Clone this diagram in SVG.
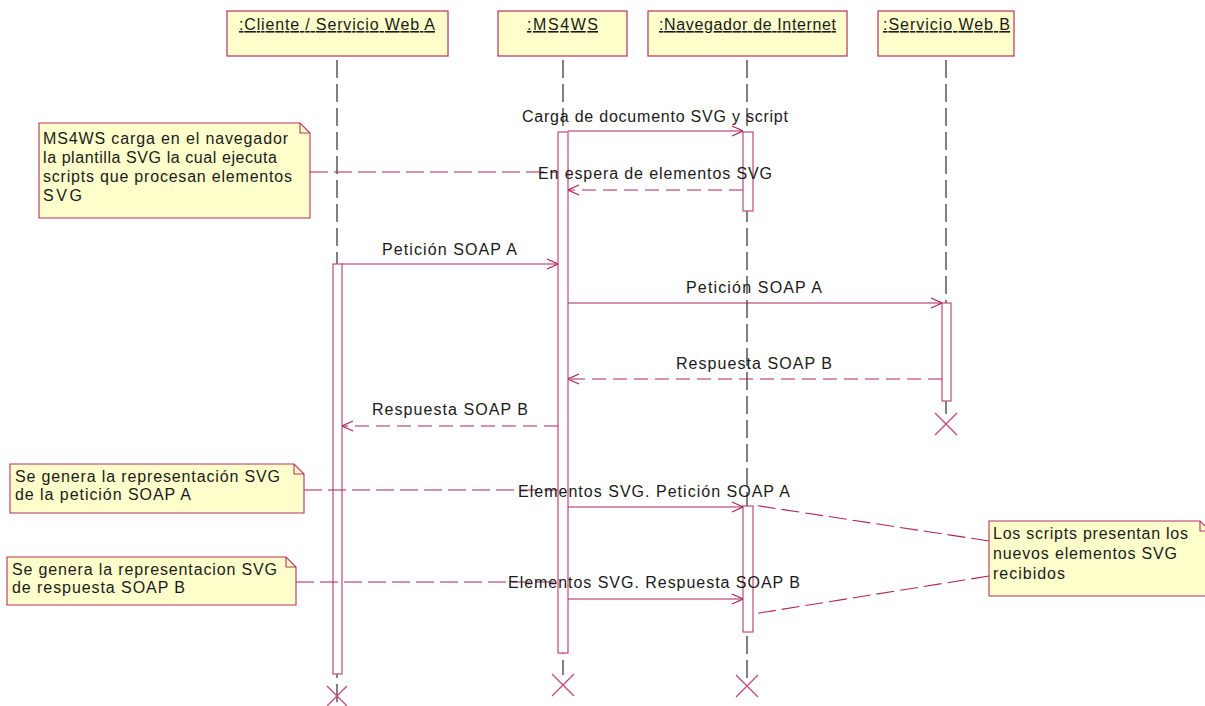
<svg xmlns="http://www.w3.org/2000/svg" width="1205" height="706" viewBox="0 0 1205 706">
  <style>
    text { font-family: "Liberation Sans", Arial, sans-serif; font-size: 16px; fill: #1a1a1a; }
    .head { fill: #ffffcc; stroke: #b8305e; stroke-width: 1.2; }
    .title { text-anchor: middle; text-decoration: underline; }
    .life { stroke: #000; stroke-width: 1; stroke-dasharray: 18 6; fill: none; }
    .act { fill: #ffffff; stroke: #c04a76; stroke-width: 1.2; }
    .msg { stroke: #b0245a; stroke-width: 1.1; fill: none; }
    .ret { stroke: #b0245a; stroke-width: 1.1; fill: none; stroke-dasharray: 14 7; }
    .lbl { text-anchor: middle; }
    .note { fill: #ffffcc; stroke: #b8305e; stroke-width: 1.1; }
    .fold { fill: none; stroke: #b8305e; stroke-width: 1.1; }
    .link { stroke: #b0245a; stroke-width: 1.1; fill: none; stroke-dasharray: 18 6; }
    .kill { stroke: #c04a76; stroke-width: 1.3; fill: none; }
  </style>
  <defs>
    <marker id="open" viewBox="0 0 12 12" refX="12" refY="6" markerWidth="12" markerHeight="12" markerUnits="userSpaceOnUse" orient="auto">
      <path d="M1,1 L12,6 L1,11" fill="none" stroke="#b0245a" stroke-width="1.2"/>
    </marker>
  </defs>

  <!-- lifelines -->
  <g id="lifelines">
    <line class="life" x1="337" y1="60" x2="337" y2="706"/>
    <line class="life" x1="563" y1="60" x2="563" y2="675"/>
    <line class="life" x1="747" y1="60" x2="747" y2="678"/>
    <line class="life" x1="946" y1="60" x2="946" y2="415"/>
  </g>

  <!-- object heads -->
  <g id="cliente">
    <rect class="head" x="227" y="11" width="221" height="45"/>
    <text class="title" x="337" y="30" textLength="196" lengthAdjust="spacing">:Cliente / Servicio Web A</text>
  </g>
  <g id="ms4ws">
    <rect class="head" x="498" y="11" width="129" height="45"/>
    <text class="title" x="562.5" y="30" textLength="71" lengthAdjust="spacing">:MS4WS</text>
  </g>
  <g id="navegador">
    <rect class="head" x="648" y="11" width="199" height="45"/>
    <text class="title" x="747.5" y="30" textLength="177" lengthAdjust="spacing">:Navegador de Internet</text>
  </g>
  <g id="servicioB">
    <rect class="head" x="878" y="11" width="136" height="45"/>
    <text class="title" x="946.5" y="30" textLength="127" lengthAdjust="spacing">:Servicio Web B</text>
  </g>

  <!-- activations -->
  <g id="activations">
    <rect class="act" x="333" y="264" width="9" height="410"/>
    <rect class="act" x="558" y="132" width="10" height="521"/>
    <rect class="act" x="743" y="132" width="10" height="79"/>
    <rect class="act" x="942" y="303" width="9" height="98"/>
    <rect class="act" x="743" y="506" width="10" height="126"/>
  </g>

  <!-- destruction marks -->
  <g id="destroy">
    <path class="kill" d="M327,686 L347,706 M347,686 L327,706"/>
    <path class="kill" d="M552,674 L574,696 M574,674 L552,696"/>
    <path class="kill" d="M736,675 L758,697 M758,675 L736,697"/>
    <path class="kill" d="M935,413 L957,435 M957,413 L935,435"/>
  </g>

  <!-- notes -->
  <g id="note-plantilla">
    <path class="note" d="M39,123 H300 L310,133 V218 H39 Z"/>
    <path class="fold" d="M300,123 V133 H310"/>
    <text x="43" y="144" textLength="245" lengthAdjust="spacing">MS4WS carga en el navegador</text>
    <text x="43" y="163" textLength="234" lengthAdjust="spacing">la plantilla SVG la cual ejecuta</text>
    <text x="43" y="182" textLength="249" lengthAdjust="spacing">scripts que procesan elementos</text>
    <text x="43" y="201" textLength="39" lengthAdjust="spacing">SVG</text>
  </g>
  <g id="note-peticion">
    <path class="note" d="M10,464 H294 L304,474 V513 H10 Z"/>
    <path class="fold" d="M294,464 V474 H304"/>
    <text x="15" y="482" textLength="265" lengthAdjust="spacing">Se genera la representación SVG</text>
    <text x="15" y="500" textLength="176" lengthAdjust="spacing">de la petición SOAP A</text>
  </g>
  <g id="note-respuesta">
    <path class="note" d="M7,557 H286 L296,567 V605 H7 Z"/>
    <path class="fold" d="M286,557 V567 H296"/>
    <text x="12" y="575" textLength="265" lengthAdjust="spacing">Se genera la representacion SVG</text>
    <text x="12" y="593" textLength="173" lengthAdjust="spacing">de respuesta SOAP B</text>
  </g>
  <g id="note-scripts">
    <path class="note" d="M989,521 H1200 L1210,531 V596 H989 Z"/>
    <path class="fold" d="M1200,521 V531 H1210"/>
    <text x="993" y="539" textLength="195" lengthAdjust="spacing">Los scripts presentan los</text>
    <text x="993" y="559" textLength="184" lengthAdjust="spacing">nuevos elementos SVG</text>
    <text x="993" y="579" textLength="72" lengthAdjust="spacing">recibidos</text>
  </g>

  <!-- connectors: note links and messages -->
  <g id="connectors">
    <line class="link" x1="310" y1="172" x2="558" y2="172"/>
    <line class="link" x1="304" y1="490" x2="558" y2="490"/>
    <line class="link" x1="296" y1="582" x2="558" y2="582"/>
    <line class="link" x1="989" y1="541" x2="753" y2="505"/>
    <line class="link" x1="989" y1="576" x2="753" y2="614"/>

    <line class="msg" x1="568" y1="131" x2="743" y2="131" marker-end="url(#open)"/>
    <line class="ret" x1="743" y1="190" x2="568" y2="190" marker-end="url(#open)"/>
    <line class="msg" x1="342" y1="264" x2="558" y2="264" marker-end="url(#open)"/>
    <line class="msg" x1="568" y1="303" x2="942" y2="303" marker-end="url(#open)"/>
    <line class="ret" x1="942" y1="379" x2="568" y2="379" marker-end="url(#open)"/>
    <line class="ret" x1="558" y1="426" x2="342" y2="426" marker-end="url(#open)"/>
    <line class="msg" x1="568" y1="507" x2="743" y2="507" marker-end="url(#open)"/>
    <line class="msg" x1="568" y1="599" x2="743" y2="599" marker-end="url(#open)"/>
  </g>

  <!-- message labels -->
  <g id="labels">
    <text class="lbl" x="655" y="122" textLength="266" lengthAdjust="spacing">Carga de documento SVG y script</text>
    <text class="lbl" x="655" y="179" textLength="234" lengthAdjust="spacing">En espera de elementos SVG</text>
    <text class="lbl" x="449.5" y="255" textLength="135" lengthAdjust="spacing">Petición SOAP A</text>
    <text class="lbl" x="754" y="293" textLength="136" lengthAdjust="spacing">Petición SOAP A</text>
    <text class="lbl" x="754" y="369" textLength="156" lengthAdjust="spacing">Respuesta SOAP B</text>
    <text class="lbl" x="450" y="415" textLength="156" lengthAdjust="spacing">Respuesta SOAP B</text>
    <text class="lbl" x="654" y="497" textLength="272" lengthAdjust="spacing">Elementos SVG. Petición SOAP A</text>
    <text class="lbl" x="654" y="588" textLength="292" lengthAdjust="spacing">Elementos SVG. Respuesta SOAP B</text>
  </g>
</svg>
